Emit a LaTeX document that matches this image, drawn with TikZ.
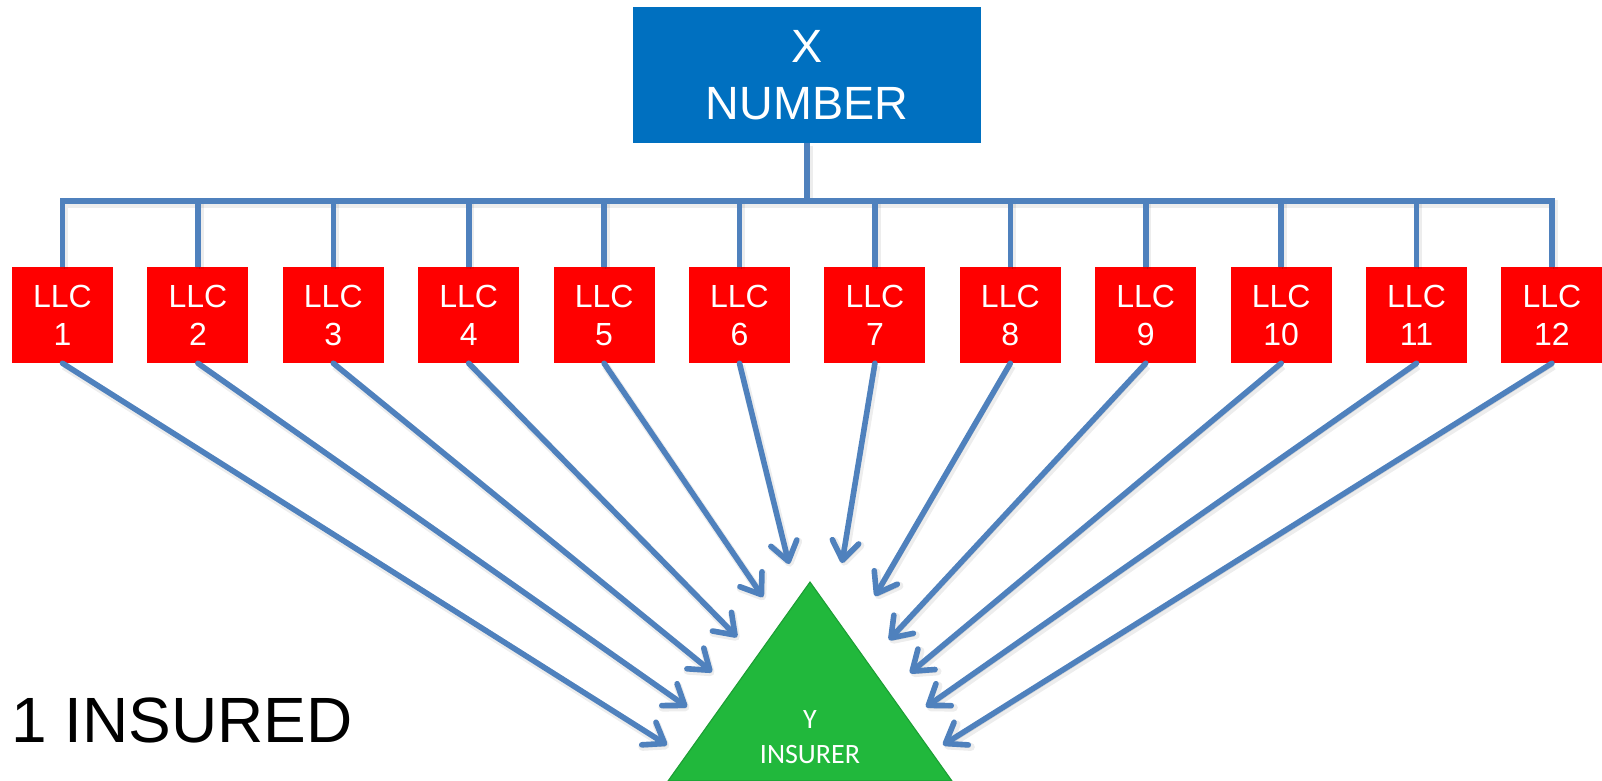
\documentclass[tikz,border=0pt]{standalone}
\usepackage{fontspec}
\setmainfont{Liberation Sans}
\newfontfamily\calib{Carlito}
\usetikzlibrary{arrows.meta}
\definecolor{topblue}{HTML}{0070C0}
\definecolor{llcred}{HTML}{FF0000}
\definecolor{linkblue}{HTML}{4F81BD}
\definecolor{insgreen}{HTML}{21B83C}
\definecolor{insedge}{HTML}{1C9E34}

\begin{document}
\begin{tikzpicture}[x=0.75pt,y=-0.75pt,
  topbox/.style={fill=topblue, text=white, minimum width=261pt, minimum height=102pt,
    inner sep=0pt, align=center, font=\fontsize{35}{43}\selectfont},
  llcbox/.style={fill=llcred, text=white, minimum width=75.75pt, minimum height=72pt,
    inner sep=0pt, align=center, font=\fontsize{24}{28.5}\selectfont},
  soft/.style={
    preaction={draw=black, draw opacity=0.07, line width=6pt,
      transform canvas={shift={(1.2pt,-2pt)}}},
    preaction={draw=black, draw opacity=0.12,
      transform canvas={shift={(1.2pt,-2pt)}}}},
  bus/.style={draw=linkblue, line width=4.2pt, soft},
  feed/.style={draw=linkblue, line width=4.2pt, line cap=round, soft,
    -{Straight Barb[length=14pt,width=20pt,line cap=round,line join=round]}},
  inslabel/.style={text=white, align=center, inner sep=0pt,
    font=\calib\fontsize{21}{26}\selectfont},
]
\useasboundingbox (0,0) rectangle (1602,781);

% owner box
\node[topbox] (top) at (807,75) {X\\NUMBER};

% the twelve companies
\foreach \i in {1,...,12} {
  \node[llcbox] (b\i) at ({62.5+(\i-1)*135.4},315) {LLC\\\i};
}

% ownership bus
\draw[bus] (top.south) -- (top.south |- 0,201) coordinate (busmid);
\draw[bus] (b1.north) |- (b12.north |- busmid) -- (b12.north);
\foreach \i in {2,...,11} {
  \draw[bus] (b\i.north) -- (b\i.north |- busmid);
}

% insurer
\coordinate (apex) at (810,582);
\coordinate (baseL) at (668,781);
\coordinate (baseR) at (952,781);
\filldraw[fill=insgreen, draw=insedge, line width=0.8pt] (apex) -- (baseR) -- (baseL) -- cycle;
\node[inslabel] (ins) at (810,737) {Y\\INSURER};

% arrow tips around the insurer
\coordinate (t1) at (667,745);
\coordinate (t2) at (687,707);
\coordinate (t3) at (712,672);
\coordinate (t4) at (737,637);
\coordinate (t5) at (763,597);
\coordinate (t6) at (789,564);
\coordinate (t7) at (842,563);
\coordinate (t8) at (875,596);
\coordinate (t9) at (889,640);
\coordinate (t10) at (910,673);
\coordinate (t11) at (926,707);
\coordinate (t12) at (943,745);

\foreach \i in {1,...,12} {
  \draw[feed] (b\i.south) -- (t\i);
}

% caption
\node[anchor=base west, inner sep=0pt, font=\fontsize{48}{56}\selectfont] (insured) at (11,742) {1 INSURED};
\end{tikzpicture}
\end{document}
